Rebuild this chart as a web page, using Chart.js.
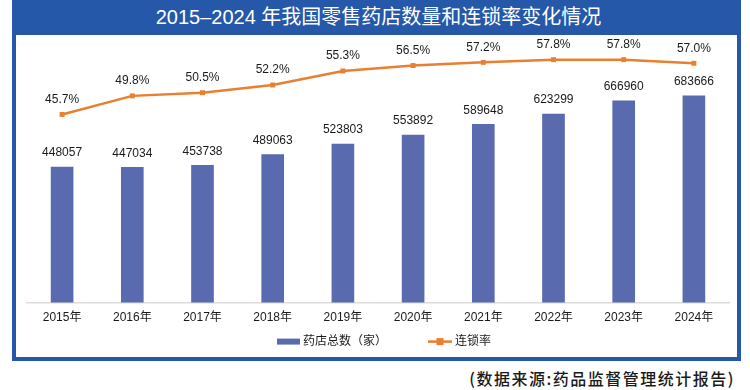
<!DOCTYPE html>
<html><head><meta charset="utf-8">
<script src="https://cdn.jsdelivr.net/npm/chart.js@4.4.1/dist/chart.umd.min.js"></script>
<style>
html,body{margin:0;padding:0;background:#fff;width:750px;height:390px;overflow:hidden;}
#frame{position:absolute;left:12px;top:0;width:721px;height:357px;border:4px solid #2558a8;border-top:none;background:#fff;}
#band{position:absolute;left:-4px;top:0;width:729px;height:35px;background:#2558a8;color:#fff;text-align:center;line-height:35px;font-size:20px;font-family:'Liberation Sans','Noto Sans CJK SC',sans-serif;font-weight:400;padding-left:4px;box-sizing:border-box;}
#wrap{position:absolute;left:16px;top:35px;width:721px;height:322px;}
#src{position:absolute;right:15px;top:368px;font-size:16px;line-height:20px;letter-spacing:1.5px;color:#1a1a1a;font-family:'Noto Sans CJK SC',sans-serif;font-weight:500;white-space:nowrap;}
</style></head>
<body>
<div id="frame"><div id="band">2015–2024 年我国零售药店数量和连锁率变化情况</div></div>
<div id="wrap"><canvas id="c" width="721" height="322"></canvas></div>
<div id="src">(数据来源:药品监督管理统计报告)</div>
<script>
const years = ['2015年','2016年','2017年','2018年','2019年','2020年','2021年','2022年','2023年','2024年'];
const storeCounts = [448057,447034,453738,489063,523803,553892,589648,623299,666960,683666];
const chainRates = [45.7,49.8,50.5,52.2,55.3,56.5,57.2,57.8,57.8,57.0];
const seriesNames = ['药店总数（家）','连锁率'];

const FONT = "'Liberation Sans','Noto Sans CJK SC',sans-serif";
const BAR_COLOR = '#5a6aae';
const LINE_COLOR = '#e8802f';
const TEXT_COLOR = '#1a1a1a';

const valueLabels = {
  id:'valueLabels',
  afterDatasetsDraw(chart){
    const ctx = chart.ctx;
    ctx.save();
    ctx.font = '12px ' + FONT;
    ctx.fillStyle = TEXT_COLOR;
    ctx.textAlign = 'center';
    ctx.textBaseline = 'middle';
    chart.data.datasets.forEach((ds,i)=>{
      const meta = chart.getDatasetMeta(i);
      meta.data.forEach((el,j)=>{
        const v = ds.data[j];
        const txt = ds.type === 'line' ? v.toFixed(1)+'%' : String(v);
        ctx.fillText(txt, el.x, el.y - (ds.type === 'line' ? 15 : 14));
      });
    });
    ctx.restore();
  }
};

const customLegend = {
  id:'customLegend',
  afterDraw(chart){
    const ctx = chart.ctx;
    const a = chart.chartArea;
    ctx.save();
    ctx.font = '12px ' + FONT;
    ctx.textBaseline = 'middle';
    ctx.textAlign = 'left';
    const y = a.bottom + 39;
    const t1 = chart.data.datasets[0].label, t2 = chart.data.datasets[1].label;
    const w1 = ctx.measureText(t1).width, w2 = ctx.measureText(t2).width;
    const boxW = 23, lineW = 24, gapIn = 3, gapOut = 41;
    const total = boxW + gapIn + w1 + gapOut + lineW + gapIn + w2;
    let x = (a.left + a.right)/2 + 6 - total/2;
    ctx.fillStyle = BAR_COLOR;
    ctx.fillRect(x, y - 3, boxW, 6);
    x += boxW + gapIn;
    ctx.fillStyle = TEXT_COLOR;
    ctx.fillText(t1, x, y);
    x += w1 + gapOut;
    ctx.strokeStyle = LINE_COLOR;
    ctx.lineWidth = 2.5;
    ctx.beginPath(); ctx.moveTo(x, y); ctx.lineTo(x + lineW, y); ctx.stroke();
    ctx.fillStyle = LINE_COLOR;
    ctx.fillRect(x + lineW/2 - 3.5, y - 3.5, 7, 7);
    x += lineW + gapIn;
    ctx.fillStyle = TEXT_COLOR;
    ctx.fillText(t2, x, y);
    ctx.restore();
  }
};

new Chart(document.getElementById('c'), {
  type:'bar',
  data:{
    labels: years,
    datasets:[
      {type:'bar', label:seriesNames[0], data:storeCounts, yAxisID:'y', backgroundColor:BAR_COLOR, barThickness:22, order:1},
      {type:'line', label:seriesNames[1], data:chainRates, yAxisID:'y1', borderColor:LINE_COLOR, backgroundColor:LINE_COLOR,
       borderWidth:2.5, pointStyle:'rect', pointRadius:3.5, pointBackgroundColor:LINE_COLOR, pointBorderWidth:0, tension:0, clip:false, order:0}
    ]
  },
  options:{
    responsive:false, animation:false, devicePixelRatio:1,
    layout:{padding:{left:11,right:8,top:6,bottom:24}},
    plugins:{legend:{display:false}, tooltip:{enabled:false}},
    scales:{
      x:{offset:true, grid:{display:false, drawTicks:false}, border:{display:true,color:'#dcdcdc',width:1.5},
         ticks:{padding:8, color:TEXT_COLOR, font:{size:12,family:FONT}, maxRotation:0, autoSkip:false}},
      y:{display:false, min:0, max:865000},
      y1:{display:false, min:4.14, max:61.92}
    }
  },
  plugins:[valueLabels, customLegend]
});
</script>
</body></html>
